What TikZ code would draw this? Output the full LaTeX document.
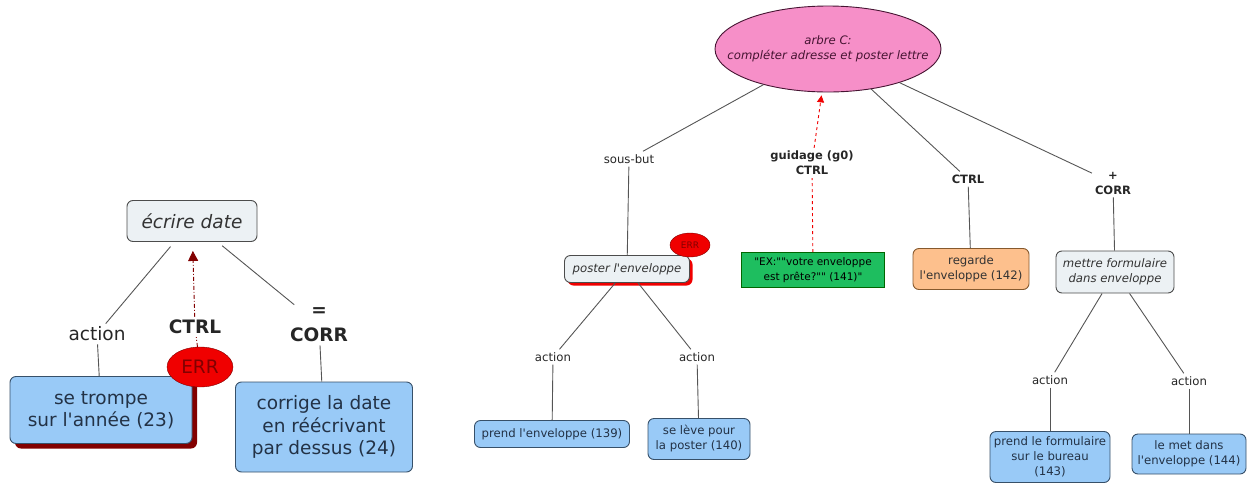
\documentclass[tikz,border=0pt]{standalone}
\usepackage{fontspec}
\setmainfont{DejaVu Sans}[Ligatures=TeXOff]
\usetikzlibrary{arrows.meta, positioning, shadows, shapes.geometric}

\definecolor{linkgrey}{RGB}{85,85,85}
\definecolor{actblue}{RGB}{153,202,247}
\definecolor{actborder}{RGB}{55,80,105}
\definecolor{acttext}{RGB}{35,50,70}
\definecolor{goalgrey}{RGB}{236,241,244}
\definecolor{treepink}{RGB}{246,143,200}
\definecolor{treetext}{RGB}{70,20,50}
\definecolor{errred}{RGB}{240,0,0}
\definecolor{errdark}{RGB}{130,0,0}
\definecolor{guidegreen}{RGB}{30,190,95}
\definecolor{watchorange}{RGB}{253,192,141}

\begin{document}
\begin{tikzpicture}[
    x=1pt, y=-1pt,
    >=Stealth,
    link/.style={draw=linkgrey, line width=0.9pt},
    ctrllink/.style={draw=errdark, line width=0.9pt, dash pattern=on 4pt off 2pt on 1pt off 2pt},
    guidelink/.style={draw=errred, line width=0.9pt, dashed},
    big/.style={font=\fontsize{18.5}{22.5}\selectfont},
    bigbold/.style={font=\fontsize{18.5}{25}\selectfont\bfseries},
    small/.style={font=\fontsize{11.7}{15}\selectfont},
    smallbold/.style={font=\fontsize{11.5}{15}\selectfont\bfseries},
    phrase/.style={align=center, inner sep=3pt, text=black!85},
    concept/.style={rectangle, rounded corners=6pt, draw=actborder, line width=0.9pt, align=center, inner sep=2pt},
    act/.style={concept, fill=actblue, text=acttext},
    goal/.style={concept, fill=goalgrey, draw=black!70, text=black!80},
    err/.style={ellipse, draw=errdark, fill=errred, text=errdark, inner sep=0pt}
]
    \useasboundingbox (0,0) rectangle (1248,485);

    % Nodes (left tree) ------------------------------------------

    \node[goal, big, minimum width=130, minimum height=41] (ecrire) at (192,221) {\itshape écrire date};
    \node[act, big, minimum width=182, minimum height=67,
          drop shadow={shadow xshift=5pt, shadow yshift=-5pt, fill=errdark, opacity=1}] (trompe) at (101,410) {se trompe\\sur l'année (23)};
    \node[act, big, minimum width=177, minimum height=90] (corrige) at (324,427) {corrige la date\\en réécrivant\\par dessus (24)};
    \node[phrase, big] (actionA) at (97,334) {action};
    \node[phrase, bigbold] (ctrlA) at (195,327) {CTRL};
    \node[phrase, bigbold] (corrA) at (319,325) {=\\CORR};
    \node[err, big, minimum width=66, minimum height=40] (errA) at (200,367) {ERR};

    % Nodes (right tree) -----------------------------------------

    % the tree root: text laid over the ellipse so it keeps its size
    \node[ellipse, draw=treetext, fill=treepink, line width=0.9pt, inner sep=0pt,
          minimum width=226, minimum height=86,
          label={[align=center, text=treetext, font=\fontsize{11.7}{15}\selectfont\itshape]center:arbre C:\\compléter adresse et poster lettre}] (arbre) at (828,49) {};
    \node[phrase, small] (sousbut) at (629,159) {sous-but};
    \node[goal, small, minimum width=125, minimum height=27,
          drop shadow={shadow xshift=3pt, shadow yshift=-3pt, fill=errred, opacity=1}] (poster) at (627,269) {\itshape poster l'enveloppe};
    \node[phrase, smallbold] (guidage) at (812,163) {guidage (g0)\\CTRL};
    \node[rectangle, draw=green!40!black, fill=guidegreen, line width=0.9pt, align=center, inner sep=2pt,
          minimum width=143, minimum height=35, font=\fontsize{10.5}{15}\selectfont] (exemple) at (813,270) {"EX:""votre enveloppe\\est prête?"" (141)"};
    \node[phrase, smallbold] (ctrlB) at (968,179) {CTRL};
    \node[concept, fill=watchorange, draw=brown!70!black, text=black!80, small,
          minimum width=116, minimum height=41] (regarde) at (971,269) {regarde\\l'enveloppe (142)};
    \node[phrase, smallbold] (corrB) at (1113,183) {+\\CORR};
    \node[goal, small, minimum width=118, minimum height=42] (mettre) at (1115,272) {\itshape mettre formulaire\\\itshape dans enveloppe};

    \node[phrase, small] (actionB) at (553,357) {action};
    \node[phrase, small] (actionC) at (697,357) {action};
    \node[act, small, minimum width=155, minimum height=27] (prendenv) at (552,434) {prend l'enveloppe (139)};
    \node[act, small, minimum width=102, minimum height=41] (seleve) at (699,439) {se lève pour\\la poster (140)};

    \node[phrase, small] (actionD) at (1050,380) {action};
    \node[phrase, small] (actionE) at (1189,381) {action};
    \node[act, small, minimum width=120, minimum height=51] (prendform) at (1050,457) {prend le formulaire\\sur le bureau\\(143)};
    \node[act, small, minimum width=114, minimum height=40] (lemet) at (1189,454) {le met dans\\l'enveloppe (144)};

    % Links ------------------------------------------------------

    % left tree
    \draw[link, shorten <=6pt] (ecrire) -- (actionA);
    \draw[link] (actionA) -- (trompe);
    \draw[link, shorten <=6pt] (ecrire) -- (corrA);
    \draw[link] (corrA) -- (corrige);
    \draw[ctrllink] (errA) -- (ctrlA);
    \draw[ctrllink, -{Triangle[length=10pt, width=10pt, fill=errdark]}, shorten >=9pt] (ctrlA) -- (ecrire);

    % right tree
    \draw[link] (arbre) -- (sousbut);
    \draw[link] (sousbut) -- (poster);
    \draw[link] (arbre) -- (ctrlB);
    \draw[link] (ctrlB) -- (regarde);
    \draw[link] (arbre) -- (corrB);
    \draw[link] (corrB) -- (mettre);
    \draw[guidelink] (exemple) -- (guidage);
    \draw[guidelink, -{Triangle[length=7pt, width=7pt, fill=errred]}, shorten >=3pt] (guidage) -- (arbre);

    \draw[link] (poster) -- (actionB);
    \draw[link] (actionB) -- (prendenv);
    \draw[link] (poster) -- (actionC);
    \draw[link] (actionC) -- (seleve);
    \draw[link] (mettre) -- (actionD);
    \draw[link] (actionD) -- (prendform);
    \draw[link] (mettre) -- (actionE);
    \draw[link] (actionE) -- (lemet);

    % Error mark on the sub-goal ---------------------------------

    \node[err, font=\fontsize{9}{11}\selectfont, minimum width=40, minimum height=24] (errB) at (690,245) {ERR};

\end{tikzpicture}
\end{document}
